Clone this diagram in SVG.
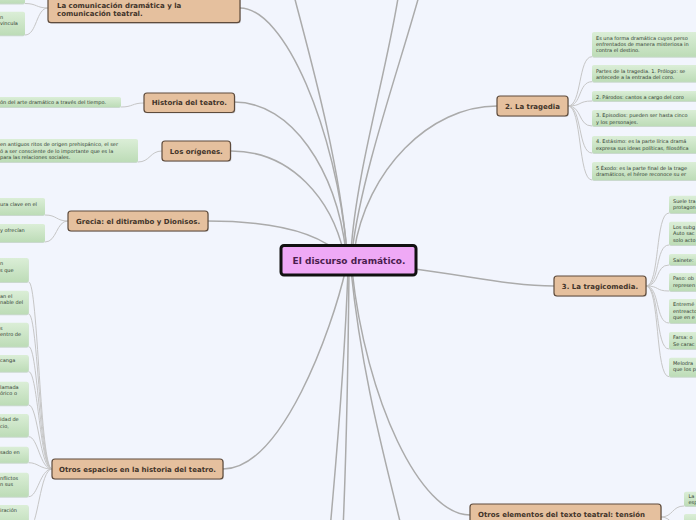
<svg xmlns="http://www.w3.org/2000/svg" width="696" height="520" viewBox="0 0 696 520">
<defs>
<linearGradient id="lg" x1="0" y1="0" x2="0" y2="1">
<stop offset="0" stop-color="#dbeed7"/>
<stop offset="1" stop-color="#bddcb7"/>
</linearGradient>
<style>
.bg{fill:#f2f5fd}
.rc{fill:none;stroke:#ababab;stroke-width:1.5}
.lc{fill:none;stroke:#c6c6c6;stroke-width:1}
.mn{fill:#e5c09e;stroke:#5e4b3c;stroke-width:1.2}
.sh{fill:#000;opacity:0.12}
.lf{fill:url(#lg)}
.ls{fill:#9ab895;opacity:0.45}
.mt{font-family:"DejaVu Sans",Verdana,sans-serif;font-weight:bold;font-size:7px;fill:#42342a}
.ct{font-family:"DejaVu Sans",Verdana,sans-serif;font-weight:bold;font-size:9px;fill:#4a1d4e}
.lt{font-family:"DejaVu Sans",Verdana,sans-serif;font-size:5px;fill:#2f3a2f}
</style>
</defs>
<rect class="bg" x="0" y="0" width="696" height="520"/>

<g id="connectors">
<!-- root connectors -->
<path class="rc" d="M290 -20 C305 40 338 150 347 252"/>
<path class="rc" d="M400 -15 C390 60 356 170 351 252"/>
<path class="rc" d="M422 -15 C402 60 362 170 352 252"/>
<path class="rc" d="M240 8 C285 8 336 130 347 252"/>
<path class="rc" d="M234 102 C292 102 336 170 346 252"/>
<path class="rc" d="M231 151 C292 151 332 200 344 254"/>
<path class="rc" d="M207 221 C280 221 322 235 342 256"/>
<path class="rc" d="M223 469 C282 469 332 330 346 268"/>
<path class="rc" d="M497 106 C430 106 366 170 354 252"/>
<path class="rc" d="M349 262 C450 270 500 286 554 286"/>
<path class="rc" d="M470 515 C420 515 366 400 352 270"/>
<path class="rc" d="M348 270 C344 380 336 460 330 530"/>
<path class="rc" d="M349 270 C348 380 346 460 343 530"/>
<path class="rc" d="M351 270 C362 380 388 470 402 530"/>
<!-- leaf connectors: comunicación -->
<path class="lc" d="M48 8 C36 8 37 3.5 25 3.5"/>
<path class="lc" d="M48 8 C36 8 37 35 25 35"/>
<!-- historia -->
<path class="lc" d="M144 103 C132 103 133 107 121 107"/>
<!-- orígenes -->
<path class="lc" d="M162 151 C150 151 150 162 138 162"/>
<!-- grecia -->
<path class="lc" d="M68 221 C56 221 57 215 45 215"/>
<path class="lc" d="M68 221 C56 221 57 242 45 242"/>
<!-- otros espacios -->
<path class="lc" d="M52 469 C40 469 38 282 28.7 282"/>
<path class="lc" d="M52 469 C40 469 38 314 28.7 314"/>
<path class="lc" d="M52 469 C40 469 38 346.7 28.7 346.7"/>
<path class="lc" d="M52 469 C40 469 38 371.7 28.7 371.7"/>
<path class="lc" d="M52 469 C40 469 38 405 28.7 405"/>
<path class="lc" d="M52 469 C40 469 38 436.7 28.7 436.7"/>
<path class="lc" d="M52 469 C40 469 38 462.7 28.7 462.7"/>
<path class="lc" d="M52 469 C40 469 38 496.7 28.7 496.7"/>
<path class="lc" d="M52 469 C40 469 38 529 28.7 529"/>
<!-- tragedia -->
<path class="lc" d="M568 106 C582 106 578 56.7 592 56.7"/>
<path class="lc" d="M568 106 C582 106 578 81.7 592 81.7"/>
<path class="lc" d="M568 106 C582 106 578 101 592 101"/>
<path class="lc" d="M568 106 C582 106 578 126 592 126"/>
<path class="lc" d="M568 106 C582 106 578 153 592 153"/>
<path class="lc" d="M568 106 C582 106 578 180 592 180"/>
<!-- tragicomedia -->
<path class="lc" d="M646 286 C660 286 655 213 669 213"/>
<path class="lc" d="M646 286 C660 286 655 245 669 245"/>
<path class="lc" d="M646 286 C660 286 655 265 669 265"/>
<path class="lc" d="M646 286 C660 286 655 291 669 291"/>
<path class="lc" d="M646 286 C660 286 655 323 669 323"/>
<path class="lc" d="M646 286 C660 286 655 349 669 349"/>
<path class="lc" d="M646 286 C660 286 655 376.7 669 376.7"/>
<!-- otros elementos -->
<path class="lc" d="M661 517 C673 517 672 506 684 506"/>
<path class="lc" d="M661 517 C673 517 672 530 684 530"/>
</g>

<g id="n-root">
<rect x="281" y="245.5" width="135" height="29.5" rx="3" fill="#efa9f6" stroke="#111" stroke-width="3"/>
<text class="ct" x="349" y="263.6" text-anchor="middle">El discurso dramático.</text>
</g>

<g id="n-comunicacion">
<rect class="sh" x="49" y="-7" width="192" height="30.7" rx="3"/>
<rect class="mn" x="48" y="-8" width="192" height="30.7" rx="3"/>
<text class="mt" x="57" y="7.5">La comunicación dramática y la</text>
<text class="mt" x="57" y="15.8">comunicación teatral.</text>
</g>
<g id="l-com-1"><rect class="ls" x="-10" y="-9" width="35" height="13.5" rx="2"/><rect class="lf" x="-10" y="-10" width="35" height="13.5" rx="2"/></g>
<g id="l-com-2"><rect class="ls" x="-10" y="12.7" width="35" height="23.5" rx="2"/><rect class="lf" x="-10" y="11.7" width="35" height="23.5" rx="2"/>
<text class="lt" x="0" y="19">n</text><text class="lt" x="0" y="25.4">vincula</text></g>

<g id="n-historia">
<rect class="sh" x="145" y="94" width="90.5" height="19.5" rx="3"/>
<rect class="mn" x="144" y="93" width="90.5" height="19.5" rx="3"/>
<text class="mt" x="189.3" y="105.2" text-anchor="middle">Historia del teatro.</text>
</g>
<g id="l-hist"><rect class="ls" x="-10" y="98" width="131" height="10" rx="2"/><rect class="lf" x="-10" y="97" width="131" height="10" rx="2"/>
<text class="lt" x="0" y="104">ón del arte dramático a través del tiempo.</text></g>

<g id="n-origenes">
<rect class="sh" x="163" y="142" width="68.5" height="20" rx="3"/>
<rect class="mn" x="162" y="141" width="68.5" height="20" rx="3"/>
<text class="mt" x="196.3" y="153.5" text-anchor="middle">Los orígenes.</text>
</g>
<g id="l-orig"><rect class="ls" x="-10" y="140" width="148" height="23" rx="2"/><rect class="lf" x="-10" y="139" width="148" height="23" rx="2"/>
<text class="lt" x="0" y="146.3">en antiguos ritos de origen prehispánico, el ser</text>
<text class="lt" x="0" y="152.7">ó a ser consciente de lo importante que es la</text>
<text class="lt" x="0" y="159.1">para las relaciones sociales.</text></g>

<g id="n-grecia">
<rect class="sh" x="69" y="212" width="140" height="20" rx="3"/>
<rect class="mn" x="68" y="211" width="140" height="20" rx="3"/>
<text class="mt" x="138" y="223.5" text-anchor="middle">Grecia: el ditirambo y Dionisos.</text>
</g>
<g id="l-gre-1"><rect class="ls" x="-10" y="199" width="55" height="17" rx="2"/><rect class="lf" x="-10" y="198" width="55" height="17" rx="2"/>
<text class="lt" x="0" y="205.5">ura clave en el</text></g>
<g id="l-gre-2"><rect class="ls" x="-10" y="225" width="55" height="18" rx="2"/><rect class="lf" x="-10" y="224" width="55" height="18" rx="2"/>
<text class="lt" x="0" y="231.5">y ofrecían</text></g>

<g id="n-espacios">
<rect class="sh" x="53" y="460" width="171" height="20" rx="3"/>
<rect class="mn" x="52" y="459" width="171" height="20" rx="3"/>
<text class="mt" x="137.5" y="471.5" text-anchor="middle">Otros espacios en la historia del teatro.</text>
</g>
<g id="l-esp-a"><rect class="ls" x="-10" y="259" width="38.7" height="24" rx="2"/><rect class="lf" x="-10" y="258" width="38.7" height="24" rx="2"/>
<text class="lt" x="0" y="265.3">n</text><text class="lt" x="0" y="271.7">s que</text></g>
<g id="l-esp-b"><rect class="ls" x="-10" y="291.7" width="38.7" height="23.5" rx="2"/><rect class="lf" x="-10" y="290.7" width="38.7" height="23.5" rx="2"/>
<text class="lt" x="0" y="298">an el</text><text class="lt" x="0" y="304.4">nable del</text></g>
<g id="l-esp-c"><rect class="ls" x="-10" y="323.7" width="38.7" height="24" rx="2"/><rect class="lf" x="-10" y="322.7" width="38.7" height="24" rx="2"/>
<text class="lt" x="0" y="330">s</text><text class="lt" x="0" y="336.4">entro de</text></g>
<g id="l-esp-d"><rect class="ls" x="-10" y="356" width="38.7" height="16.7" rx="2"/><rect class="lf" x="-10" y="355" width="38.7" height="16.7" rx="2"/>
<text class="lt" x="0" y="362.3">canga</text></g>
<g id="l-esp-e"><rect class="ls" x="-10" y="382.7" width="38.7" height="23.5" rx="2"/><rect class="lf" x="-10" y="381.7" width="38.7" height="23.5" rx="2"/>
<text class="lt" x="0" y="389">lamada</text><text class="lt" x="0" y="395.4">órico o</text></g>
<g id="l-esp-f"><rect class="ls" x="-10" y="415" width="38.7" height="22.7" rx="2"/><rect class="lf" x="-10" y="414" width="38.7" height="22.7" rx="2"/>
<text class="lt" x="0" y="421.3">idad de</text><text class="lt" x="0" y="427.7">cio,</text></g>
<g id="l-esp-g"><rect class="ls" x="-10" y="447.7" width="38.7" height="16" rx="2"/><rect class="lf" x="-10" y="446.7" width="38.7" height="16" rx="2"/>
<text class="lt" x="0" y="454">sado en</text></g>
<g id="l-esp-h"><rect class="ls" x="-10" y="473.7" width="38.7" height="24" rx="2"/><rect class="lf" x="-10" y="472.7" width="38.7" height="24" rx="2"/>
<text class="lt" x="0" y="480">nflictos</text><text class="lt" x="0" y="486.4">n sus</text></g>
<g id="l-esp-i"><rect class="ls" x="-10" y="506" width="38.7" height="24" rx="2"/><rect class="lf" x="-10" y="505" width="38.7" height="24" rx="2"/>
<text class="lt" x="0" y="512.3">iración</text></g>

<g id="n-tragedia">
<rect class="sh" x="498" y="97" width="71" height="20" rx="3"/>
<rect class="mn" x="497" y="96" width="71" height="20" rx="3"/>
<text class="mt" x="532.5" y="108.5" text-anchor="middle">2. La tragedia</text>
</g>
<g id="l-tra-1"><rect class="ls" x="592" y="33" width="120" height="24.7" rx="2"/><rect class="lf" x="592" y="32" width="120" height="24.7" rx="2"/>
<text class="lt" x="596" y="39.6">Es una forma dramática cuyos perso</text>
<text class="lt" x="596" y="46">enfrentados de manera misteriosa in</text>
<text class="lt" x="596" y="52.4">contra el destino.</text></g>
<g id="l-tra-2"><rect class="ls" x="592" y="66" width="120" height="16.7" rx="2"/><rect class="lf" x="592" y="65" width="120" height="16.7" rx="2"/>
<text class="lt" x="596" y="72.6">Partes de la tragedia. 1. Prólogo: se</text>
<text class="lt" x="596" y="79">antecede a la entrada del coro.</text></g>
<g id="l-tra-3"><rect class="ls" x="592" y="92" width="120" height="10" rx="2"/><rect class="lf" x="592" y="91" width="120" height="10" rx="2"/>
<text class="lt" x="596" y="98.5">2. Párodos: cantos a cargo del coro</text></g>
<g id="l-tra-4"><rect class="ls" x="592" y="111" width="120" height="16" rx="2"/><rect class="lf" x="592" y="110" width="120" height="16" rx="2"/>
<text class="lt" x="596" y="117">3. Episodios: pueden ser hasta cinco</text>
<text class="lt" x="596" y="123.8">y los personajes.</text></g>
<g id="l-tra-5"><rect class="ls" x="592" y="137" width="120" height="17" rx="2"/><rect class="lf" x="592" y="136" width="120" height="17" rx="2"/>
<text class="lt" x="596" y="143.3">4. Estásimo: es la parte lírica dramá</text>
<text class="lt" x="596" y="149.8">expresa sus ideas políticas, filosófica</text></g>
<g id="l-tra-6"><rect class="ls" x="592" y="163" width="120" height="18" rx="2"/><rect class="lf" x="592" y="162" width="120" height="18" rx="2"/>
<text class="lt" x="596" y="169.5">5 Éxodo: es la parte final de la trage</text>
<text class="lt" x="596" y="175.9">dramáticos, el héroe reconoce su er</text></g>

<g id="n-tragicomedia">
<rect class="sh" x="555" y="277" width="92" height="20" rx="3"/>
<rect class="mn" x="554" y="276" width="92" height="20" rx="3"/>
<text class="mt" x="600" y="288.5" text-anchor="middle">3. La tragicomedia.</text>
</g>
<g id="l-tc-1"><rect class="ls" x="669" y="196.7" width="40" height="17.3" rx="2"/><rect class="lf" x="669" y="195.7" width="40" height="17.3" rx="2"/>
<text class="lt" x="673" y="203">Suele tra</text><text class="lt" x="673" y="209.4">protagon</text></g>
<g id="l-tc-2"><rect class="ls" x="669" y="222.7" width="40" height="23.3" rx="2"/><rect class="lf" x="669" y="221.7" width="40" height="23.3" rx="2"/>
<text class="lt" x="673" y="229">Los subg</text><text class="lt" x="673" y="235.4">Auto sac</text><text class="lt" x="673" y="241.8">solo acto</text></g>
<g id="l-tc-3"><rect class="ls" x="669" y="255" width="40" height="11" rx="2"/><rect class="lf" x="669" y="254" width="40" height="11" rx="2"/>
<text class="lt" x="673" y="261.5">Sainete:</text></g>
<g id="l-tc-4"><rect class="ls" x="669" y="274" width="40" height="18" rx="2"/><rect class="lf" x="669" y="273" width="40" height="18" rx="2"/>
<text class="lt" x="673" y="280.3">Paso: ob</text><text class="lt" x="673" y="286.7">represen</text></g>
<g id="l-tc-5"><rect class="ls" x="669" y="300" width="40" height="24" rx="2"/><rect class="lf" x="669" y="299" width="40" height="24" rx="2"/>
<text class="lt" x="673" y="306.3">Entremé</text><text class="lt" x="673" y="312.7">entreacto</text><text class="lt" x="673" y="319.1">que en e</text></g>
<g id="l-tc-6"><rect class="ls" x="669" y="333" width="40" height="17" rx="2"/><rect class="lf" x="669" y="332" width="40" height="17" rx="2"/>
<text class="lt" x="673" y="339.3">Farsa: o</text><text class="lt" x="673" y="345.7">Se carac</text></g>
<g id="l-tc-7"><rect class="ls" x="669" y="358.7" width="40" height="19" rx="2"/><rect class="lf" x="669" y="357.7" width="40" height="19" rx="2"/>
<text class="lt" x="673" y="365">Melodra</text><text class="lt" x="673" y="371.4">que los p</text></g>

<g id="n-elementos">
<rect class="sh" x="471" y="505" width="191" height="30" rx="3"/>
<rect class="mn" x="470" y="504" width="191" height="30" rx="3"/>
<text class="mt" x="478" y="517">Otros elementos del texto teatral: tensión</text>
</g>
<g id="l-el-1"><rect class="ls" x="684" y="492.7" width="20" height="14.3" rx="2"/><rect class="lf" x="684" y="491.7" width="20" height="14.3" rx="2"/>
<text class="lt" x="688.5" y="497.8">La</text><text class="lt" x="688.5" y="504">esp</text></g>
<g id="l-el-2"><rect class="ls" x="684" y="515" width="20" height="14" rx="2"/><rect class="lf" x="684" y="514" width="20" height="14" rx="2"/></g>
</svg>
